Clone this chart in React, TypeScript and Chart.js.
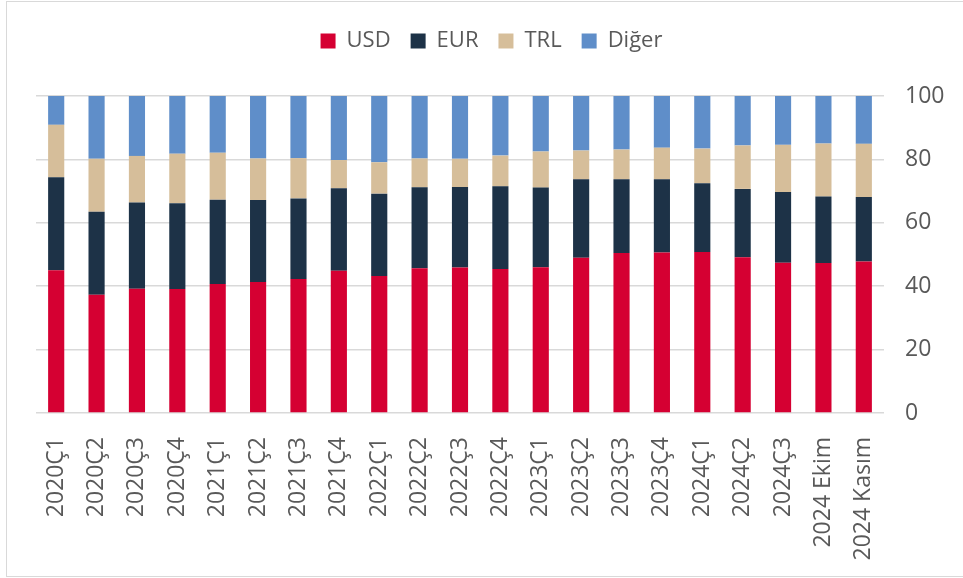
import React, { useEffect, useRef } from "react";
import { Chart, registerables } from "chart.js";

Chart.register(...registerables);

const categories = [
  "2020Ç1", "2020Ç2", "2020Ç3", "2020Ç4",
  "2021Ç1", "2021Ç2", "2021Ç3", "2021Ç4",
  "2022Ç1", "2022Ç2", "2022Ç3", "2022Ç4",
  "2023Ç1", "2023Ç2", "2023Ç3", "2023Ç4",
  "2024Ç1", "2024Ç2", "2024Ç3", "2024 Ekim", "2024 Kasım",
];

const usd = [45.0, 37.3, 39.2, 39.1, 40.7, 41.3, 42.3, 44.9, 43.2, 45.7, 45.9, 45.4, 46.0, 49.0, 50.5, 50.6, 50.8, 49.1, 47.4, 47.3, 47.8];
const eur = [29.4, 26.2, 27.2, 27.1, 26.6, 25.9, 25.4, 26.0, 26.0, 25.5, 25.4, 26.1, 25.1, 24.7, 23.2, 23.1, 21.7, 21.6, 22.3, 21.0, 20.3];
const trl = [16.5, 16.7, 14.7, 15.6, 14.8, 13.1, 12.7, 8.9, 9.9, 9.1, 8.9, 9.7, 11.4, 9.1, 9.4, 10.0, 10.9, 13.7, 14.9, 16.7, 16.8];
const diger = [9.1, 19.8, 18.9, 18.2, 17.9, 19.7, 19.6, 20.2, 20.9, 19.7, 19.8, 18.8, 17.5, 17.2, 16.9, 16.3, 16.6, 15.6, 15.4, 15.0, 15.1];

const yTicks = [0, 20, 40, 60, 80, 100];

const FONT = "'Open Sans', 'Noto Sans', sans-serif";
const TEXT = "#595959";

export default function App() {
  const ref = useRef<HTMLCanvasElement | null>(null);

  useEffect(() => {
    if (!ref.current) return;
    const legendGap = {
      id: "legendGap",
      beforeInit(chart: any) {
        if (!chart.legend) return;
        const orig = chart.legend.fit;
        chart.legend.fit = function () {
          orig.bind(chart.legend)();
          this.height += 34;
        };
      },
      afterUpdate(chart: any) {
        if (!chart.legend) return;
        chart.legend.left -= 8;
        chart.legend.right -= 8;
      },
    };
    const chart = new Chart(ref.current, {
      type: "bar",
      data: {
        labels: categories,
        datasets: [
          { label: "USD", data: usd, backgroundColor: "#D50032" },
          { label: "EUR", data: eur, backgroundColor: "#1D3247" },
          { label: "TRL", data: trl, backgroundColor: "#D6BE9A" },
          { label: "Diğer", data: diger, backgroundColor: "#5F8EC9" },
        ],
      },
      options: {
        responsive: false,
        animation: false,
        layout: { padding: { left: 36, right: 0, top: 10, bottom: 0 } },
        datasets: { bar: { categoryPercentage: 0.8, barPercentage: 0.5, borderWidth: 0 } } as any,
        plugins: {
          legend: {
            position: "top",
            labels: {
              boxWidth: 15,
              boxHeight: 15,
              padding: 20,
              color: TEXT,
              font: { family: FONT, size: 22 },
            },
          },
          tooltip: { enabled: false },
        },
        scales: {
          x: {
            stacked: true,
            grid: { display: false },
            border: { display: false },
            afterFit(axis: any) {
              axis.height = 165;
            },
            ticks: {
              color: TEXT,
              font: { family: FONT, size: 23 },
              minRotation: 90,
              maxRotation: 90,
              autoSkip: false,
              padding: 16,
            },
          },
          y: {
            stacked: true,
            position: "right",
            min: 0,
            max: 100,
            afterBuildTicks(axis: any) {
              axis.ticks = yTicks.map((v) => ({ value: v }));
            },
            afterFit(axis: any) {
              axis.width = 79;
            },
            grid: { color: "#d9d9d9", lineWidth: 1.5, drawTicks: false },
            border: { display: false },
            ticks: {
              color: TEXT,
              font: { family: FONT, size: 23 },
              padding: 21,
            },
          },
        },
      },
      plugins: [legendGap],
    });
    return () => chart.destroy();
  }, []);

  return (
    <div style={{ position: "fixed", left: 0, top: 0, width: 963, height: 578, background: "#fff", overflow: "hidden" }}>
      <div
        style={{
          position: "absolute",
          left: 6,
          top: 1,
          width: 1000,
          height: 574,
          border: "1.5px solid #d9d9d9",
          boxSizing: "content-box",
        }}
      />
      <canvas ref={ref} width={963} height={578} style={{ position: "absolute", left: 0, top: 0, display: "block" }} />
    </div>
  );
}
